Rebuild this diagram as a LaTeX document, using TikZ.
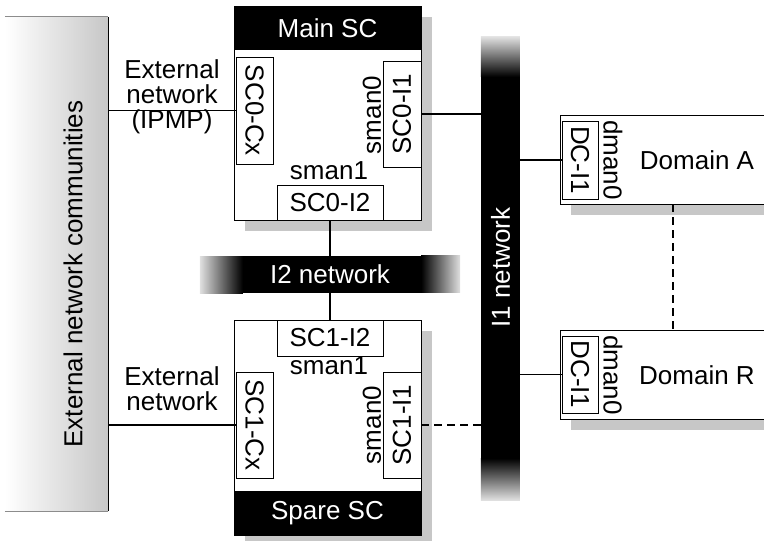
\documentclass[tikz,border=0pt]{standalone}
\usepackage{fontspec}
\setmainfont{Liberation Sans}
\usepackage{graphicx}
\usetikzlibrary{calc,positioning,shadows}

\tikzset{
  lbl/.style={font=\fontsize{26pt}{25pt}\selectfont, inner sep=0pt},
  shad/.style={drop shadow={shadow xshift=11pt, shadow yshift=-11pt, fill=black!22, opacity=1}},
  scbox/.style={draw, fill=white, line width=0.8pt, minimum width=187pt, minimum height=215pt, inner sep=0pt, shad},
  dombox/.style={draw, fill=white, line width=0.8pt, minimum width=226pt, minimum height=89pt, inner sep=0pt, shad},
  blk/.style={fill=black, text=white, lbl},
  port/.style={draw, fill=white, line width=0.8pt, lbl},
  link/.style={line width=1.6pt},
  dsh/.style={dash pattern=on 8pt off 5pt},
}

\begin{document}
\begin{tikzpicture}[x=1pt,y=-1pt]
    \pgfmathsetmacro{\fade}{40}

    \useasboundingbox (0,0) rectangle (764,541);
    \clip (0,0) rectangle (764,541);

    % external side
    \node[left color=white, right color=black!22, minimum width=103pt, minimum height=494pt, inner sep=0pt] (ext) at (56.5,264) {};
    \draw[line width=1.2pt] (ext.north east) -- (ext.south east);
    \draw[black!45, line width=0.8pt] (ext.north west) -- (ext.north east);
    \draw[black!45, line width=0.8pt] (ext.south west) -- (ext.south east);
    \node[lbl] (extlbl) at (73,274) {\rotatebox{90}{External network communities}};

    % I1 network
    \node[blk, minimum width=39pt, minimum height=381pt] (i1) at (500.5,267.5) {};
    \shade[top color=black!12, bottom color=black] (i1.north west) rectangle ++(39,-\fade);
    \shade[top color=black, bottom color=black!12] (i1.south west) rectangle ++(39,42);
    \node[lbl, text=white] (i1lbl) at (i1) {\rotatebox{90}{I1 network}};

    % I2 network
    \node[blk, minimum width=178pt, minimum height=37pt] (i2) at (332,274.5) {};
    \shade[left color=black!12, right color=black] (i2.south west) rectangle ++(-43,-37);
    \shade[left color=black, right color=black!12] (i2.north east) rectangle ++(39,37);
    \node[lbl, text=white] (i2lbl) at (330,274.5) {I2 network};

    % main SC
    \node[scbox, minimum height=214pt] (main) at (327.5,113) {};
    \node[blk, minimum width=187pt, minimum height=44pt, anchor=north] (mainhd) at (main.north) {Main SC};
    \node[port, minimum width=37pt, minimum height=107pt] (cx0) at (254.5,110.5) {\rotatebox{-90}{SC0-Cx}};
    \node[port, minimum width=38pt, minimum height=106pt] (sci0) at (402,114) {\rotatebox{90}{SC0-I1}};
    \node[port, minimum width=106pt, minimum height=35pt] (sc0i2) at (330,202.5) {SC0-I2};
    \node[lbl] (sman00) at (372,115) {\rotatebox{90}{sman0}};
    \node[lbl] (sman01) at (329,171) {sman1};

    % spare SC
    \node[scbox] (spare) at (327.5,427.5) {};
    \node[blk, minimum width=187pt, minimum height=44pt, anchor=south] (sparehd) at (spare.south) {Spare SC};
    \node[port, minimum width=106pt, minimum height=36pt] (sc1i2) at (330,338) {SC1-I2};
    \node[port, minimum width=37pt, minimum height=106pt] (cx1) at (254.5,425) {\rotatebox{-90}{SC1-Cx}};
    \node[port, minimum width=38pt, minimum height=106pt] (sci1) at (402,425) {\rotatebox{90}{SC1-I1}};
    \node[lbl] (sman10) at (372,425) {\rotatebox{90}{sman0}};
    \node[lbl] (sman11) at (329,366) {sman1};

    % domains
    \node[dombox] (doma) at (673,159.5) {};
    \node[port, minimum width=36pt, minimum height=78pt] (dca) at (580,160) {\rotatebox{-90}{DC-I1}};
    \node[lbl] (dmana) at (613,160) {\rotatebox{-90}{dman0}};
    \node[lbl] (domalbl) at (697,160) {Domain A};

    \node[dombox] (domr) at (673,374.5) {};
    \node[port, minimum width=36pt, minimum height=77pt] (dcr) at (580,374.5) {\rotatebox{-90}{DC-I1}};
    \node[lbl] (dmanr) at (613,375) {\rotatebox{-90}{dman0}};
    \node[lbl] (domrlbl) at (697,375) {Domain R};

    % external links
    \node[lbl, align=center] (extn0) at (172,97) {External\\network\\(IPMP)};
    \node[lbl, align=center] (extn1) at (172,389) {External\\network};
    \draw[link] (ext.east |- cx0.west) -- (cx0.west);
    \draw[link] (ext.east |- cx1.west) -- (cx1.west);

    % internal links
    \draw[link] (sci0.east) -- (sci0.east -| i1.west);
    \draw[link, dsh] (sci1.east) -- (sci1.east -| i1.west);
    \draw[link] (sc0i2.south) -- (sc0i2.south |- i2.north);
    \draw[link] (i2.south -| sc1i2.north) -- (sc1i2.north);
    \draw[link] (i1.east |- dca.west) -- (dca.west);
    \draw[link] (i1.east |- dcr.west) -- (dcr.west);
    \draw[link, dsh] (doma.south) -- (domr.north);
\end{tikzpicture}
\end{document}
